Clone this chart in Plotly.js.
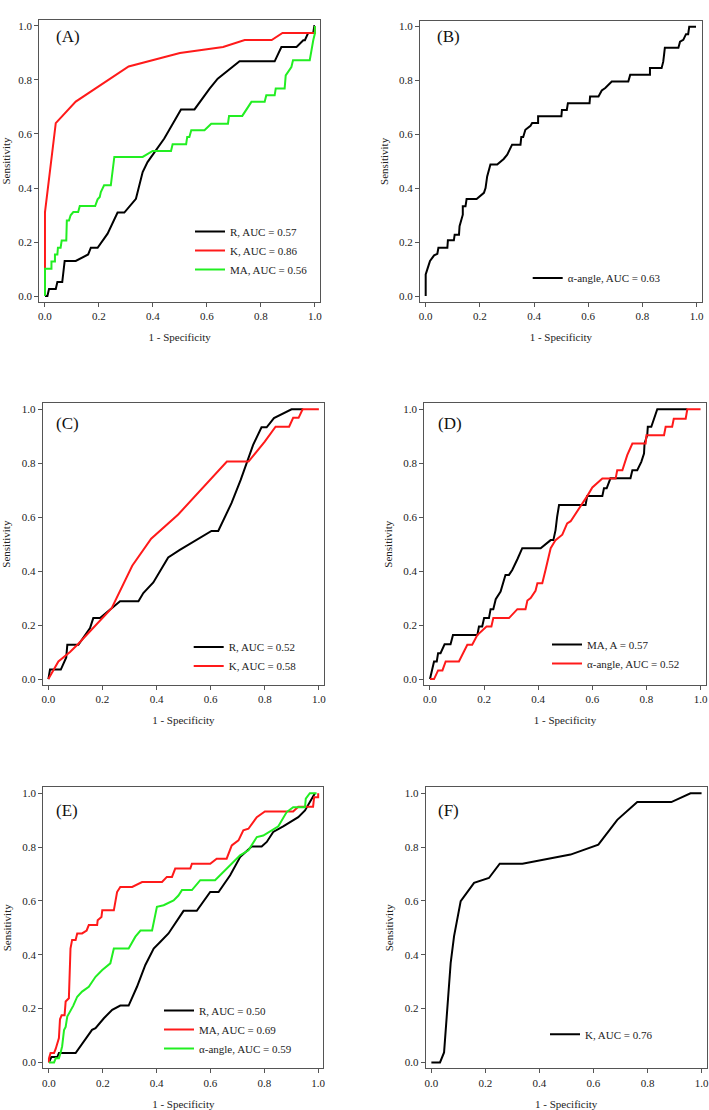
<!DOCTYPE html>
<html>
<head>
<meta charset="utf-8">
<script src="https://cdn.plot.ly/plotly-3.0.1.min.js"></script>
<style>html,body{margin:0;padding:0;background:#fff}#chart{width:709px;height:1110px}</style>
</head>
<body>
<div id="chart"></div>
<script>
// ---------- Data (1 - Specificity = x, Sensitivity = y) ----------
// Panel A
const A_R_x = [0,0.009,0.015,0.04,0.046,0.064,0.073,0.114,0.16,0.17,0.195,0.232,0.269,0.294,0.337,0.362,0.38,0.405,0.442,0.504,0.554,0.61,0.64,0.721,0.851,0.876,0.932,0.957,0.963,0.975,0.994,0.998,1.0];
const A_R_y = [0,0,0.026,0.026,0.052,0.052,0.13,0.13,0.154,0.179,0.179,0.231,0.309,0.309,0.36,0.459,0.496,0.533,0.583,0.691,0.691,0.768,0.805,0.869,0.869,0.922,0.922,0.947,0.947,0.974,0.974,1.0,1.0];
const A_K_x = [0,0,0,0.04,0.114,0.31,0.4,0.5,0.66,0.74,0.84,0.88,1.0,1.0];
const A_K_y = [0,0.1,0.31,0.64,0.72,0.85,0.875,0.9,0.922,0.948,0.948,0.974,0.974,1.0];
const A_MA_x = [0,0,0.024,0.024,0.037,0.037,0.046,0.048,0.058,0.062,0.079,0.081,0.089,0.095,0.105,0.123,0.129,0.186,0.195,0.203,0.207,0.219,0.244,0.257,0.362,0.399,0.467,0.473,0.523,0.527,0.535,0.542,0.591,0.616,0.678,0.682,0.731,0.765,0.814,0.82,0.851,0.855,0.888,0.892,0.913,0.919,0.981,0.988,0.994,1.0,1.0];
const A_MA_y = [0,0.101,0.101,0.128,0.128,0.154,0.154,0.179,0.179,0.206,0.206,0.28,0.28,0.299,0.311,0.311,0.333,0.333,0.358,0.367,0.385,0.41,0.41,0.515,0.515,0.537,0.537,0.562,0.562,0.589,0.589,0.614,0.614,0.638,0.638,0.667,0.667,0.719,0.719,0.743,0.743,0.768,0.768,0.817,0.848,0.873,0.873,0.922,0.947,0.972,1.0];
// Panel B
const B_alpha_x = [0,0,0.006,0.016,0.031,0.043,0.047,0.08,0.082,0.104,0.107,0.123,0.125,0.131,0.137,0.137,0.147,0.151,0.188,0.215,0.221,0.227,0.239,0.264,0.288,0.301,0.319,0.35,0.353,0.36,0.368,0.387,0.393,0.415,0.415,0.501,0.503,0.521,0.525,0.605,0.607,0.638,0.65,0.663,0.687,0.748,0.755,0.828,0.828,0.871,0.877,0.88,0.883,0.933,0.939,0.951,0.961,0.969,0.973,0.998];
const B_alpha_y = [0,0.08,0.099,0.13,0.151,0.157,0.179,0.179,0.207,0.207,0.228,0.228,0.259,0.278,0.302,0.333,0.333,0.36,0.36,0.383,0.401,0.444,0.488,0.488,0.509,0.525,0.562,0.562,0.59,0.59,0.617,0.632,0.642,0.642,0.667,0.667,0.691,0.691,0.716,0.716,0.741,0.741,0.763,0.772,0.796,0.796,0.821,0.821,0.846,0.846,0.87,0.895,0.922,0.922,0.944,0.951,0.972,0.972,1.0,1.0];
// Panel C
const C_R_x = [0,0.006,0.046,0.058,0.066,0.07,0.111,0.154,0.166,0.191,0.234,0.265,0.333,0.351,0.388,0.443,0.486,0.548,0.603,0.628,0.677,0.711,0.757,0.788,0.807,0.834,0.899,0.942];
const C_R_y = [0,0.035,0.035,0.065,0.08,0.127,0.127,0.189,0.226,0.226,0.263,0.288,0.288,0.319,0.358,0.451,0.479,0.516,0.549,0.549,0.652,0.738,0.868,0.933,0.933,0.967,1.0,1.0];
const C_K_x = [0,0.037,0.08,0.11,0.234,0.31,0.38,0.48,0.66,0.74,0.8,0.84,0.89,0.905,0.925,0.94,1.0];
const C_K_y = [0,0.065,0.1,0.13,0.263,0.42,0.52,0.61,0.806,0.806,0.88,0.935,0.935,0.968,0.968,1.0,1.0];
// Panel D
const D_MA_x = [0,0.015,0.025,0.03,0.039,0.054,0.076,0.085,0.175,0.181,0.193,0.2,0.218,0.224,0.234,0.243,0.261,0.279,0.292,0.304,0.323,0.341,0.409,0.446,0.456,0.464,0.47,0.477,0.575,0.581,0.637,0.643,0.653,0.667,0.741,0.748,0.766,0.781,0.791,0.793,0.803,0.805,0.818,0.828,0.84,0.951];
const D_MA_y = [0,0.065,0.065,0.096,0.096,0.129,0.129,0.163,0.163,0.195,0.195,0.226,0.226,0.259,0.259,0.296,0.324,0.386,0.386,0.404,0.444,0.485,0.485,0.515,0.515,0.552,0.602,0.645,0.645,0.678,0.678,0.707,0.707,0.744,0.744,0.774,0.774,0.805,0.836,0.873,0.904,0.935,0.935,0.965,1.0,1.0];
const D_alpha_x = [0,0.015,0.03,0.046,0.058,0.107,0.138,0.156,0.175,0.209,0.227,0.234,0.292,0.323,0.353,0.36,0.372,0.39,0.397,0.415,0.427,0.446,0.464,0.489,0.507,0.52,0.581,0.6,0.637,0.686,0.692,0.711,0.729,0.748,0.797,0.8,0.865,0.871,0.895,0.901,0.945,0.951,1.0];
const D_alpha_y = [0,0,0.032,0.032,0.065,0.065,0.127,0.127,0.163,0.195,0.195,0.226,0.226,0.259,0.259,0.291,0.3,0.327,0.355,0.355,0.404,0.485,0.515,0.535,0.577,0.585,0.678,0.71,0.743,0.743,0.774,0.774,0.83,0.873,0.873,0.904,0.904,0.935,0.935,0.965,0.965,1.0,1.0];
// Panel E
const E_R_x = [0,0.009,0.031,0.037,0.099,0.117,0.16,0.173,0.204,0.235,0.265,0.296,0.327,0.358,0.389,0.414,0.444,0.5,0.549,0.599,0.63,0.673,0.71,0.753,0.79,0.809,0.833,0.87,0.926,0.951,0.988];
const E_R_y = [0,0.02,0.02,0.035,0.035,0.059,0.121,0.127,0.164,0.195,0.211,0.211,0.281,0.362,0.423,0.448,0.479,0.563,0.563,0.633,0.633,0.695,0.763,0.802,0.802,0.819,0.856,0.877,0.911,0.936,1.0];
const E_MA_x = [0,0,0.006,0.019,0.025,0.031,0.037,0.041,0.047,0.058,0.062,0.074,0.08,0.086,0.099,0.105,0.123,0.14,0.148,0.179,0.181,0.195,0.198,0.241,0.253,0.265,0.309,0.346,0.42,0.438,0.457,0.469,0.525,0.531,0.599,0.623,0.66,0.679,0.704,0.722,0.741,0.772,0.802,0.907,0.926,0.981,0.985,1.0,1.0];
const E_MA_y = [0,0.015,0.035,0.035,0.05,0.072,0.09,0.16,0.175,0.175,0.226,0.238,0.423,0.455,0.455,0.479,0.479,0.49,0.51,0.51,0.528,0.54,0.565,0.565,0.633,0.652,0.652,0.67,0.67,0.689,0.689,0.72,0.72,0.738,0.738,0.757,0.757,0.806,0.825,0.862,0.868,0.911,0.932,0.932,0.95,0.95,0.985,0.985,1.0];
const E_alpha_x = [0,0.019,0.025,0.037,0.043,0.049,0.056,0.062,0.068,0.08,0.09,0.105,0.123,0.148,0.173,0.198,0.228,0.241,0.296,0.321,0.34,0.383,0.391,0.401,0.426,0.463,0.481,0.494,0.531,0.549,0.562,0.617,0.636,0.685,0.71,0.741,0.772,0.796,0.852,0.883,0.907,0.951,0.954,0.969,0.994];
const E_alpha_y = [0,0,0.015,0.015,0.035,0.06,0.12,0.132,0.17,0.19,0.21,0.244,0.263,0.281,0.318,0.343,0.368,0.423,0.423,0.467,0.49,0.49,0.528,0.578,0.584,0.602,0.62,0.64,0.64,0.664,0.677,0.677,0.695,0.745,0.769,0.788,0.837,0.843,0.877,0.93,0.948,0.948,0.98,1.0,1.0];
// Panel F
const F_K_x = [0,0.032,0.047,0.057,0.0715,0.084,0.1085,0.158,0.213,0.253,0.337,0.515,0.618,0.688,0.762,0.888,0.959,1.0];
const F_K_y = [0,0,0.037,0.173,0.37,0.469,0.599,0.667,0.685,0.738,0.738,0.772,0.809,0.901,0.967,0.967,1.0,1.0];

const panelLabels = ["(A)","(B)","(C)","(D)","(E)","(F)"];
const tickVals = [0,0.2,0.4,0.6,0.8,1.0];
const tickText = ["0.0","0.2","0.4","0.6","0.8","1.0"];
const xTitle = "1 - Specificity";
const yTitle = "Sensitivity";

const BLACK = "#000000", RED = "#ff1a1a", GREEN = "#22ee22";

const series = [
  {p:0, x:A_R_x, y:A_R_y, name:"R, AUC = 0.57", color:BLACK},
  {p:0, x:A_K_x, y:A_K_y, name:"K, AUC = 0.86", color:RED},
  {p:0, x:A_MA_x, y:A_MA_y, name:"MA, AUC = 0.56", color:GREEN},
  {p:1, x:B_alpha_x, y:B_alpha_y, name:"α-angle, AUC = 0.63", color:BLACK},
  {p:2, x:C_R_x, y:C_R_y, name:"R, AUC = 0.52", color:BLACK},
  {p:2, x:C_K_x, y:C_K_y, name:"K, AUC = 0.58", color:RED},
  {p:3, x:D_MA_x, y:D_MA_y, name:"MA, A = 0.57", color:BLACK},
  {p:3, x:D_alpha_x, y:D_alpha_y, name:"α-angle, AUC = 0.52", color:RED},
  {p:4, x:E_R_x, y:E_R_y, name:"R, AUC = 0.50", color:BLACK},
  {p:4, x:E_MA_x, y:E_MA_y, name:"MA, AUC = 0.69", color:RED},
  {p:4, x:E_alpha_x, y:E_alpha_y, name:"α-angle, AUC = 0.59", color:GREEN},
  {p:5, x:F_K_x, y:F_K_y, name:"K, AUC = 0.76", color:BLACK}
];

// ---------- Layout geometry (pixels) ----------
const W = 709, H = 1110;
const boxes = [ // [left, right, top, bottom]
  [39.3, 320, 20, 302],
  [420, 701.7, 20.7, 302],
  [42.7, 324, 403.3, 685],
  [424.3, 705.7, 403.3, 685],
  [43.3, 323.3, 787.3, 1068.3],
  [425.7, 706.7, 787.3, 1068.3]
];
const legendPos = [ // [lineStartX, centerY]
  [198, 250.5], [535.7, 278], [196.7, 656.4], [555, 654], [167, 1029.5], [553, 1034.3]
];
const labelPos = [[54.3, 36.7],[435, 36.7],[54.3, 423.3],[435.7, 423.3],[54.3, 810],[435.7, 810]];

const FONT = "Liberation Serif, Times New Roman, serif";
const TXT = "#222";
const FRAME = "#555";

const layout = {
  width: W, height: H,
  margin: {l:0, r:0, t:0, b:0},
  paper_bgcolor: "#fff", plot_bgcolor: "#fff",
  font: {family: FONT, size: 11, color: TXT},
  showlegend: true,
  annotations: []
};

const traces = series.map(s => {
  const suf = s.p === 0 ? "" : String(s.p + 1);
  return {
    type: "scatter", mode: "lines",
    x: s.x, y: s.y, name: s.name,
    xaxis: "x" + suf, yaxis: "y" + suf,
    legend: "legend" + suf,
    line: {color: s.color, width: 2},
    hoverinfo: "skip"
  };
});

boxes.forEach((b, i) => {
  const suf = i === 0 ? "" : String(i + 1);
  const common = {
    range: null, tickmode: "array", tickvals: tickVals, ticktext: tickText,
    ticks: "outside", ticklen: 4, tickwidth: 1, tickcolor: FRAME,
    showline: true, mirror: true, linecolor: FRAME, linewidth: 1,
    showgrid: false, zeroline: false, fixedrange: true,
    tickfont: {family: FONT, size: 11, color: TXT}
  };
  layout["xaxis" + suf] = Object.assign({}, common, {
    domain: [b[0] / W, b[1] / W],
    range: [-0.021, 1.019],
    anchor: "y" + suf,
    title: {text: xTitle, font: {family: FONT, size: 11, color: TXT}, standoff: 12}
  });
  layout["yaxis" + suf] = Object.assign({}, common, {
    domain: [1 - b[3] / H, 1 - b[2] / H],
    range: [-0.022, 1.022],
    anchor: "x" + suf,
    title: {text: yTitle, font: {family: FONT, size: 11, color: TXT}, standoff: 8}
  });
  const lp = legendPos[i];
  layout["legend" + suf] = {
    x: (lp[0] - 8) / W, y: 1 - lp[1] / H,
    xanchor: "left", yanchor: "middle",
    bgcolor: "rgba(0,0,0,0)", borderwidth: 0,
    font: {family: FONT, size: 11, color: TXT},
    tracegroupgap: 0, itemwidth: 30
  };
  layout.annotations.push({
    text: panelLabels[i], xref: "paper", yref: "paper",
    x: labelPos[i][0] / W, y: 1 - labelPos[i][1] / H,
    xanchor: "left", yanchor: "middle", showarrow: false,
    font: {family: FONT, size: 17, color: "#111"}
  });
});

Plotly.newPlot("chart", traces, layout, {displayModeBar: false, staticPlot: true});
</script>
</body>
</html>
